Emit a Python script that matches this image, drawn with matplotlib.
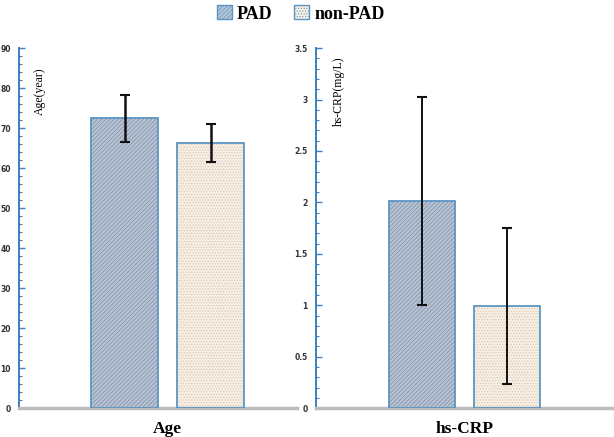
import numpy as np
import matplotlib
matplotlib.use('Agg')
import matplotlib.pyplot as plt
from matplotlib.patches import Patch
from matplotlib.ticker import MultipleLocator

# Data
groups = ['PAD', 'non-PAD']
age_mean = [72.4, 66.2]
age_sd = [5.9, 4.8]
crp_mean = [2.01, 0.99]
crp_sd = [1.01, 0.76]

SPINE_BLUE = '#3d7fc0'
EDGE_BLUE = '#5b95c4'
FILL = ['#b6c3d5', '#f6eee3']
HATCH_COL = ['#7a889c', '#d6c4ae']
HATCH = ['////////', '......']
SERIF = 'Liberation Serif'

plt.rcParams['hatch.linewidth'] = 0.45

fig = plt.figure(figsize=(6.14, 4.37), dpi=100)
ax1 = fig.add_axes([0.031, 0.066, 0.453, 0.824])
ax2 = fig.add_axes([0.515, 0.066, 0.485, 0.824])

offsets = [-0.64, 0.64]


def draw_panel(ax, means, sds, ylim, major, minor, ylabel, cat, xlim, elw):
    for i in range(2):
        x = offsets[i]
        # hatched fill first, then the blue outline
        plt.rcParams['hatch.color'] = HATCH_COL[i]
        ax.bar(x, means[i], width=1.0, color=FILL[i], edgecolor=HATCH_COL[i],
               hatch=HATCH[i], linewidth=0, zorder=2)
        ax.bar(x, means[i], width=1.0, facecolor='none', edgecolor=EDGE_BLUE,
               linewidth=1.3, zorder=3)
        ax.errorbar(x, means[i], yerr=sds[i], fmt='none', ecolor='#111111',
                    elinewidth=elw, capsize=3.5, capthick=1.5, zorder=4)
    ax.set_xlim(*xlim)
    ax.set_ylim(*ylim)
    ax.yaxis.set_major_locator(MultipleLocator(major))
    ax.yaxis.set_minor_locator(MultipleLocator(minor))
    ax.set_xticks([])
    for s in ['top', 'right']:
        ax.spines[s].set_visible(False)
    ax.spines['left'].set_color(SPINE_BLUE)
    ax.spines['left'].set_linewidth(1.4)
    ax.spines['bottom'].set_color('#bdbdbd')
    ax.spines['bottom'].set_linewidth(2.5)
    ax.tick_params(axis='y', which='major', direction='in', length=4,
                   width=1, color=SPINE_BLUE, labelsize=5.5, pad=6,
                   labelcolor='#333333')
    ax.tick_params(axis='y', which='minor', direction='in', length=2.5,
                   width=0.8, color=SPINE_BLUE)
    for lab in ax.get_yticklabels():
        lab.set_fontweight('bold')
    ax.text(0.075, 0.88, ylabel, transform=ax.transAxes,
            rotation=90, ha='center', va='center', fontsize=8.5, family=SERIF)
    ax.text(0.0, -0.035, cat, transform=ax.get_xaxis_transform(), ha='center',
            va='top', fontsize=12.5, fontweight='bold', family=SERIF)
    ax.set_facecolor('none')


draw_panel(ax1, age_mean, age_sd, (0, 90), 10, 2, 'Age(year)', 'Age',
           (-2.22, 1.93), 1.8)
draw_panel(ax2, crp_mean, crp_sd, (0, 3.5), 0.5, 0.1, 'hs-CRP(mg/L)', 'hs-CRP',
           (-2.25, 2.27), 1.4)

ax2.yaxis.set_major_formatter(plt.FuncFormatter(lambda v, p: f'{v:g}'))

handles = [Patch(facecolor=FILL[i], edgecolor=EDGE_BLUE, hatch=HATCH[i],
                 linewidth=1) for i in range(2)]
fig.legend(handles, groups, loc='center', bbox_to_anchor=(0.49, 0.968),
           ncol=2, frameon=False, handlelength=0.8, handleheight=0.8,
           handletextpad=0.3, columnspacing=1.2,
           prop={'family': SERIF, 'weight': 'bold', 'size': 13})

fig.savefig('out.png', dpi=100)
